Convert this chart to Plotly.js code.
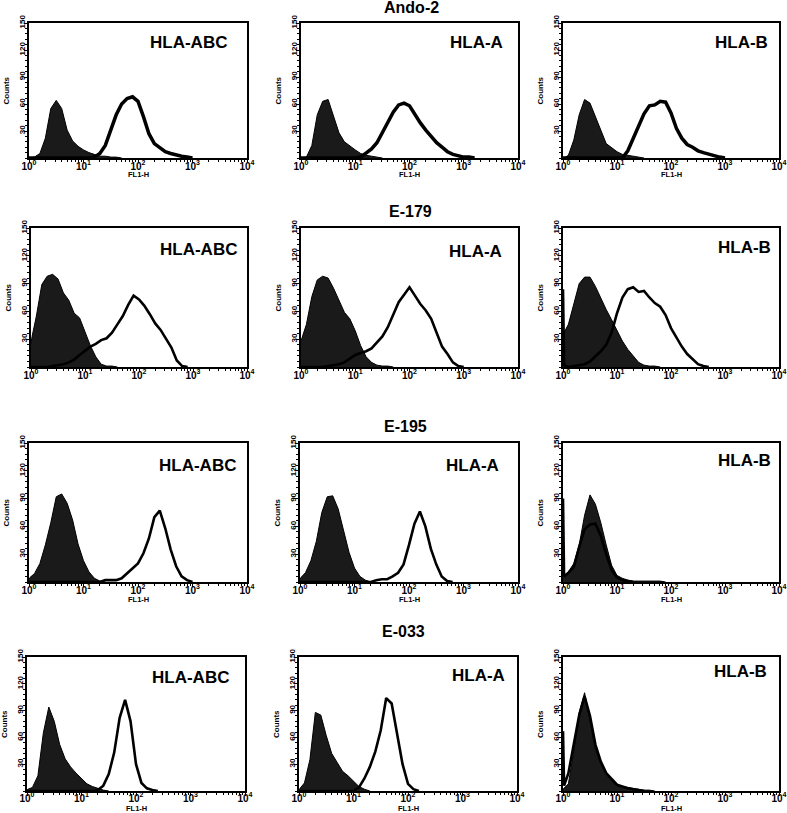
<!DOCTYPE html>
<html><head><meta charset="utf-8">
<script src="https://cdn.plot.ly/plotly-3.0.1.min.js"></script>
<style>html,body{margin:0;padding:0;background:#fff}#chart{width:787px;height:813px}</style>
</head><body><div id="chart"></div>
<script>
// FL1-H channel positions (bin centres) shared by every histogram
const fl1Bins = [1, 1.047, 1.259, 1.585, 1.995, 2.512, 3.162, 3.981, 5.012, 6.310, 7.943,
  10, 12.59, 15.85, 19.95, 25.12, 31.62, 39.81, 50.12, 63.10, 79.43,
  100, 125.9, 158.5, 199.5, 251.2, 316.2, 398.1, 501.2, 631.0, 794.3,
  1000, 1259, 1585, 1995, 2512, 3162];

const cellLines = ['Ando-2', 'E-179', 'E-195', 'E-033'];
const antibodies = ['HLA-ABC', 'HLA-A', 'HLA-B'];
const xTickVals = [1, 10, 100, 1000, 10000];
const xTickText = ['10<sup>0</sup>', '10<sup>1</sup>', '10<sup>2</sup>', '10<sup>3</sup>', '10<sup>4</sup>'];
const yTickVals = [30, 60, 90, 120, 150];
const yTickText = ['30', '60', '90', '120', '150'];
const xTitle = 'FL1-H';
const yTitle = 'Counts';

// Counts — filled (control) histograms
const ando2_ABC_ctrl = [0,0,1,5,22,55,64,55,31,19,13,9,6,4,2,2,1,1,0];
const ando2_A_ctrl   = [0,0,1,14,48,63,65,46,28,18,13,9,5,3,2,1,0];
const ando2_B_ctrl   = [0,0,3,20,48,65,61,47,31,16,11,7,4,3,2,1,0];
const e179_ABC_ctrl  = [25,33,55,89,98,100,95,80,72,58,53,37,23,11,3,1,1,0];
const e179_A_ctrl    = [28,32,46,76,94,98,96,85,72,59,52,39,23,11,5,2,1,1,0];
const e179_B_ctrl    = [35,37,46,68,90,97,97,87,74,62,51,39,28,19,12,5,2,1,1,0];
const e195_ABC_ctrl  = [3,5,9,20,40,64,92,95,85,67,41,23,11,4,1,0];
const e195_A_ctrl    = [3,5,10,23,44,75,92,93,79,55,32,15,6,2,0];
const e195_B_ctrl    = [5,6,11,20,40,72,94,84,64,40,18,7,4,2,1,1,1,1,1,1,0];
const e033_ABC_ctrl  = [1,2,4,17,65,94,78,52,36,27,20,14,8,5,3,1,0];
const e033_A_ctrl    = [1,3,9,35,88,85,62,42,32,22,17,11,5,2,0];
const e033_B_ctrl    = [2,3,8,45,88,110,80,47,30,19,12,7,5,4,3,2,1,1,0];

// Counts — open (HLA-stained) histograms
const ando2_ABC_hla = [0,0,0,0,0,0,0,0,0,0,0,0,0,1,5,14,32,48,60,66,68,63,46,27,16,11,7,5,3,2,1,0];
const ando2_A_hla   = [0,0,0,0,0,0,0,0,0,0,0,0,1,5,10,17,28,40,51,59,61,58,48,39,31,24,17,12,7,4,2,1,1,0];
const ando2_B_hla   = [0,0,0,0,0,0,0,0,0,0,0,0,0,8,21,34,49,58,59,63,62,50,33,22,15,12,8,6,4,2,1,0];
const e179_ABC_hla  = [0,0,0,0,0,1,2,3,5,8,13,18,22,25,29,31,37,46,55,67,77,73,66,57,47,40,30,21,7,1,0];
const e179_A_hla    = [0,0,0,0,0,0,1,2,3,5,9,13,15,17,20,26,33,43,57,70,78,86,77,68,61,52,37,22,14,5,1,0];
const e179_B_hla    = [84,2,0,1,2,3,6,11,17,24,37,58,75,84,86,81,82,75,69,65,56,42,32,22,14,8,3,1,0];
const e195_ABC_hla  = [0,0,0,0,0,0,0,0,0,0,0,0,0,0,0,2,2,2,4,9,14,20,31,47,70,77,58,35,17,6,2,0];
const e195_A_hla    = [0,0,0,0,0,0,0,0,0,0,0,0,0,0,0,2,3,3,6,10,19,40,63,76,60,36,19,6,1,0];
const e195_B_hla    = [90,6,10,16,38,57,62,63,50,30,13,5,2,1,0];
const e033_ABC_hla  = [0,0,0,0,0,0,0,0,0,0,0,0,0,0,1,6,19,43,82,102,78,30,9,3,1,0];
const e033_A_hla    = [0,0,0,0,0,0,0,0,0,0,0,0,4,14,27,44,68,104,98,64,30,8,2,0];
const e033_B_hla    = [67,6,20,52,85,106,84,52,33,20,13,7,5,3,2,1,0];

const ctrlSeries = [
  [ando2_ABC_ctrl, ando2_A_ctrl, ando2_B_ctrl],
  [e179_ABC_ctrl, e179_A_ctrl, e179_B_ctrl],
  [e195_ABC_ctrl, e195_A_ctrl, e195_B_ctrl],
  [e033_ABC_ctrl, e033_A_ctrl, e033_B_ctrl]];
const hlaSeries = [
  [ando2_ABC_hla, ando2_A_hla, ando2_B_hla],
  [e179_ABC_hla, e179_A_hla, e179_B_hla],
  [e195_ABC_hla, e195_A_hla, e195_B_hla],
  [e033_ABC_hla, e033_A_hla, e033_B_hla]];

// ---- layout geometry (pixels) ----
const W = 787, H = 813;
const rowTB = [[23,158],[228,367],[443,582],[657,791]];
const colLR = [
  [[29,247],[301,518],[563,779]],
  [[31,247],[301,518],[563,779]],
  [[29,247],[300,518],[563,779]],
  [[27,245],[299,517],[563,779]]];
const labelPos = [
  [[188,43],[476,43],[741,43]],
  [[198,249],[475,251],[744,248]],
  [[197,465],[472,465],[744,460]],
  [[190,677],[478,675],[740,671]]];
const titlePos = [[411,8],[410,211],[405,426],[403,631]];
const xTitleOffset = [17, null, 17, 17];
const xLabelStandoff = [-5, -5, -5, -6];
const outlineWidth = [3.5, 2.6, 2.6, 2.6];

const FONT = 'Liberation Sans, Arial, sans-serif';
const px = x => x / W;
const py = y => 1 - y / H;

const data = [];
const layout = {
  width: W, height: H, margin: {l:0, r:0, t:0, b:0},
  paper_bgcolor: '#fff', plot_bgcolor: '#fff', showlegend: false,
  font: {family: FONT, color: '#000'},
  annotations: []
};

for (let r = 0; r < 4; r++) {
  for (let c = 0; c < 3; c++) {
    const n = r * 3 + c + 1;
    const xs = n === 1 ? '' : String(n);
    const [t, b] = rowTB[r];
    const [l, rr] = colLR[r][c];
    const ctrl = ctrlSeries[r][c];
    const hla = hlaSeries[r][c];
    data.push({
      type: 'scatter', mode: 'lines', x: fl1Bins.slice(0, ctrl.length), y: ctrl,
      xaxis: 'x' + xs, yaxis: 'y' + xs, fill: 'tozeroy', fillcolor: '#1a1a1a',
      line: {color: '#000', width: 1}, hoverinfo: 'skip'
    });
    data.push({
      type: 'scatter', mode: 'lines', x: fl1Bins.slice(0, hla.length), y: hla,
      xaxis: 'x' + xs, yaxis: 'y' + xs,
      line: {color: '#000', width: outlineWidth[r]}, hoverinfo: 'skip'
    });
    layout['xaxis' + xs] = {
      domain: [px(l), px(rr)], anchor: 'y' + xs, type: 'log', range: [0, 4],
      tickmode: 'array', tickvals: xTickVals, ticktext: xTickText,
      ticks: 'outside', ticklen: 3, tickwidth: 1, tickcolor: '#000',
      ticklabelstandoff: xLabelStandoff[r],
      minor: {dtick: 'D1', ticks: 'outside', ticklen: 2, tickwidth: 1, tickcolor: '#000'},
      showline: true, linecolor: '#000', linewidth: 1.6, mirror: true,
      showgrid: false, zeroline: false,
      tickfont: {family: FONT, size: 10, color: '#000', weight: 'bold'}
    };
    layout['yaxis' + xs] = {
      domain: [py(b), py(t)], anchor: 'x' + xs, range: [0, 150],
      tickmode: 'array', tickvals: yTickVals, ticktext: yTickText, tickangle: -90,
      ticks: 'outside', ticklen: 3, tickwidth: 1, tickcolor: '#000',
      ticklabelstandoff: -4,
      minor: {tick0: 0, dtick: 6, ticks: 'outside', ticklen: 2, tickwidth: 1, tickcolor: '#000'},
      showline: true, linecolor: '#000', linewidth: 1.6, mirror: true,
      showgrid: false, zeroline: false,
      tickfont: {family: FONT, size: 8, color: '#000', weight: 'bold'}
    };
    // antibody label
    layout.annotations.push({
      xref: 'paper', yref: 'paper', x: px(labelPos[r][c][0]), y: py(labelPos[r][c][1]),
      xanchor: 'center', yanchor: 'middle', showarrow: false,
      text: '<b>' + antibodies[c] + '</b>', font: {family: FONT, size: 17, color: '#000'}
    });
    // y-axis title
    layout.annotations.push({
      xref: 'paper', yref: 'paper', x: px(l - 23), y: py((t + b) / 2),
      xanchor: 'center', yanchor: 'middle', showarrow: false, textangle: -90,
      text: '<b>' + yTitle + '</b>', font: {family: FONT, size: 8, color: '#000'}
    });
    // x-axis title
    if (xTitleOffset[r] !== null) {
      layout.annotations.push({
        xref: 'paper', yref: 'paper', x: px((l + rr) / 2), y: py(b + xTitleOffset[r]),
        xanchor: 'center', yanchor: 'middle', showarrow: false,
        text: '<b>' + xTitle + '</b>', font: {family: FONT, size: 7.5, color: '#000'}
      });
    }
  }
  // cell line title
  layout.annotations.push({
    xref: 'paper', yref: 'paper', x: px(titlePos[r][0]), y: py(titlePos[r][1]),
    xanchor: 'center', yanchor: 'middle', showarrow: false,
    text: '<b>' + cellLines[r] + '</b>', font: {family: FONT, size: 16, color: '#000'}
  });
}

Plotly.newPlot('chart', data, layout, {staticPlot: true, displayModeBar: false});
</script>
</body></html>
